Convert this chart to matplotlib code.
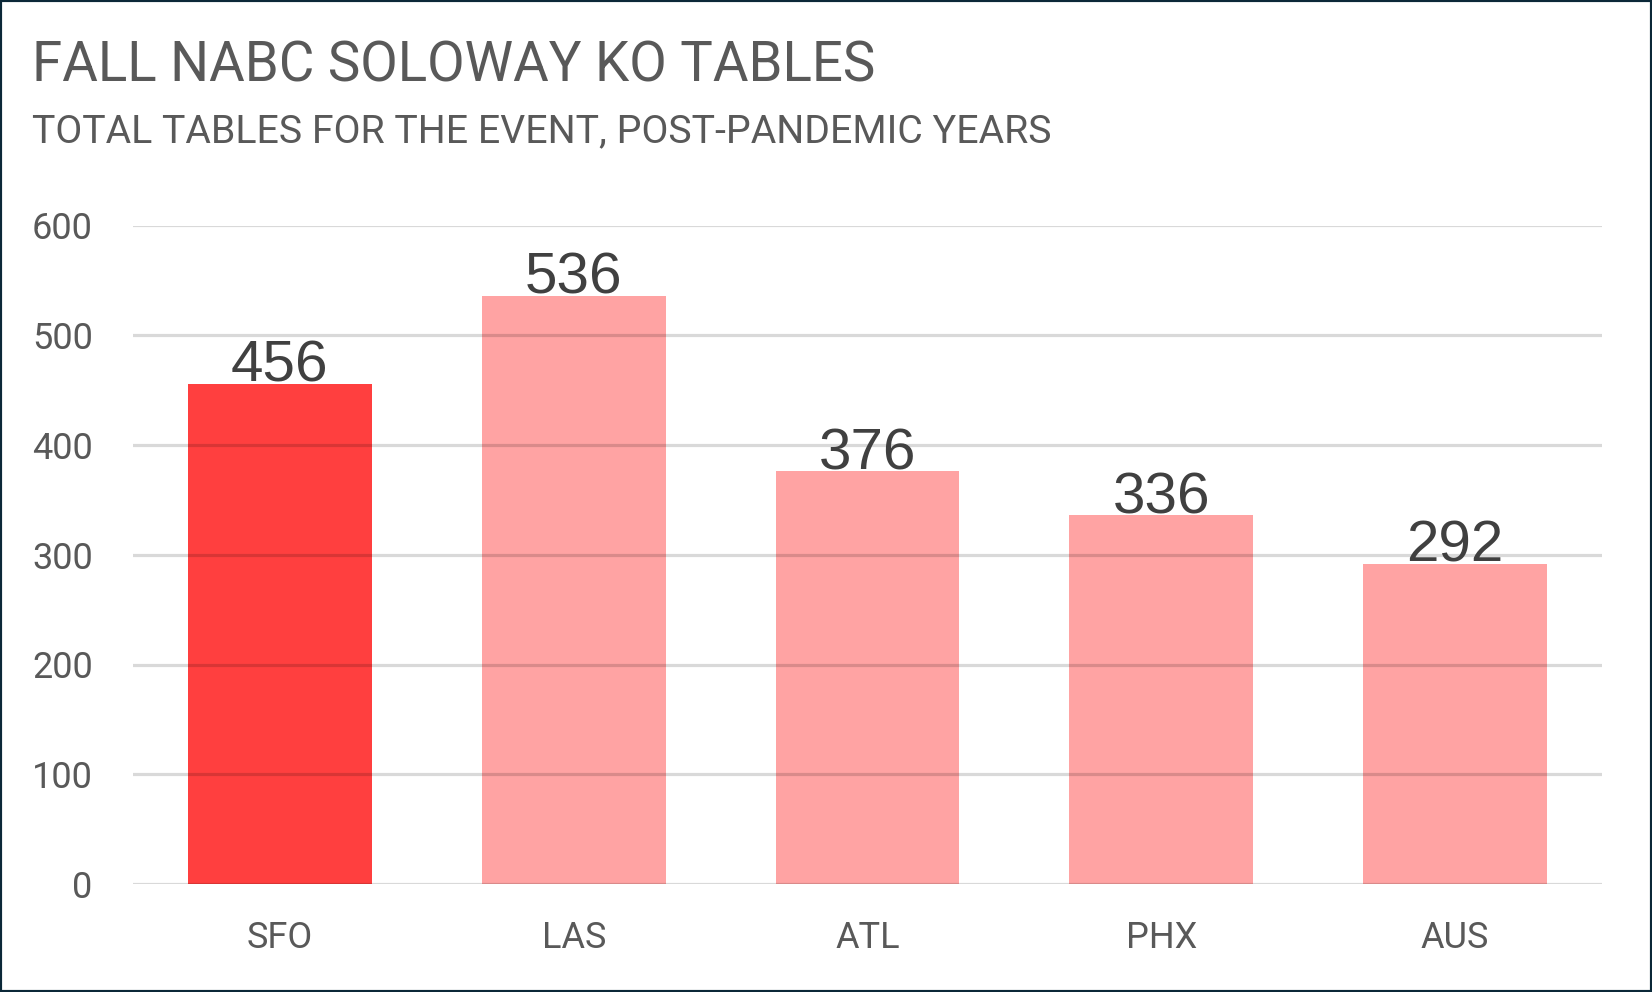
import numpy as np
import matplotlib
matplotlib.use('Agg')
import matplotlib.pyplot as plt
from matplotlib.patches import Rectangle

# data
cities = ['SFO', 'LAS', 'ATL', 'PHX', 'AUS']
tables = [456, 536, 376, 336, 292]
highlight = 'SFO'

title = 'FALL NABC SOLOWAY KO TABLES'
subtitle = 'TOTAL TABLES FOR THE EVENT, POST-PANDEMIC YEARS'
yticks = [0, 100, 200, 300, 400, 500, 600]

W, H, DPI = 1652, 992, 100
text_grey = '#595959'
label_grey = '#404040'
font = ['Roboto', 'DejaVu Sans']
label_font = ['Liberation Sans', 'DejaVu Sans']

fig = plt.figure(figsize=(W / DPI, H / DPI), dpi=DPI)
fig.patch.set_facecolor('white')

# axes placed in pixel terms
left, right, bottom, top = 133, 1602, 884, 225.5
ax = fig.add_axes([left / W, 1 - bottom / H, (right - left) / W, (bottom - top) / H])

x = np.arange(len(cities))
colors = ['#FF3F3F' if c == highlight else '#FFA3A3' for c in cities]
bars = ax.bar(x, tables, width=0.625, color=colors, zorder=1)

ax.set_xlim(-0.5, len(cities) - 0.5)
ax.set_ylim(0, 600)
ax.set_yticks(yticks)
ax.set_xticks(x)
ax.set_xticklabels(cities)

ax.set_axisbelow(False)
ax.yaxis.grid(True, color='black', alpha=0.15, linewidth=2.3)
ax.xaxis.grid(False)
for s in ax.spines.values():
    s.set_visible(False)
ax.tick_params(axis='both', length=0, labelsize=26, labelcolor=text_grey)
ax.tick_params(axis='y', pad=29)
ax.tick_params(axis='x', pad=26)
for lbl in ax.get_xticklabels() + ax.get_yticklabels():
    lbl.set_family(font)

for b, v in zip(bars, tables):
    ax.annotate(str(v), (b.get_x() + b.get_width() / 2, v), xytext=(0, 1.5),
                textcoords='offset points', ha='center', va='baseline',
                fontsize=42, color=label_grey, family=label_font, zorder=3)

fig.text(32 / W, 1 - 81 / H, title, fontsize=39.3, color=text_grey,
         family=font, va='baseline', ha='left')
fig.text(32 / W, 1 - 142 / H, subtitle, fontsize=28.3, color=text_grey,
         family=font, va='baseline', ha='left')

# dark frame around the whole chart
fig.patches.append(Rectangle((0, 0), 1, 1, transform=fig.transFigure, fill=False,
                             edgecolor='#0B2838', linewidth=3, zorder=10))

fig.savefig('out.png', dpi=DPI, facecolor='white')
